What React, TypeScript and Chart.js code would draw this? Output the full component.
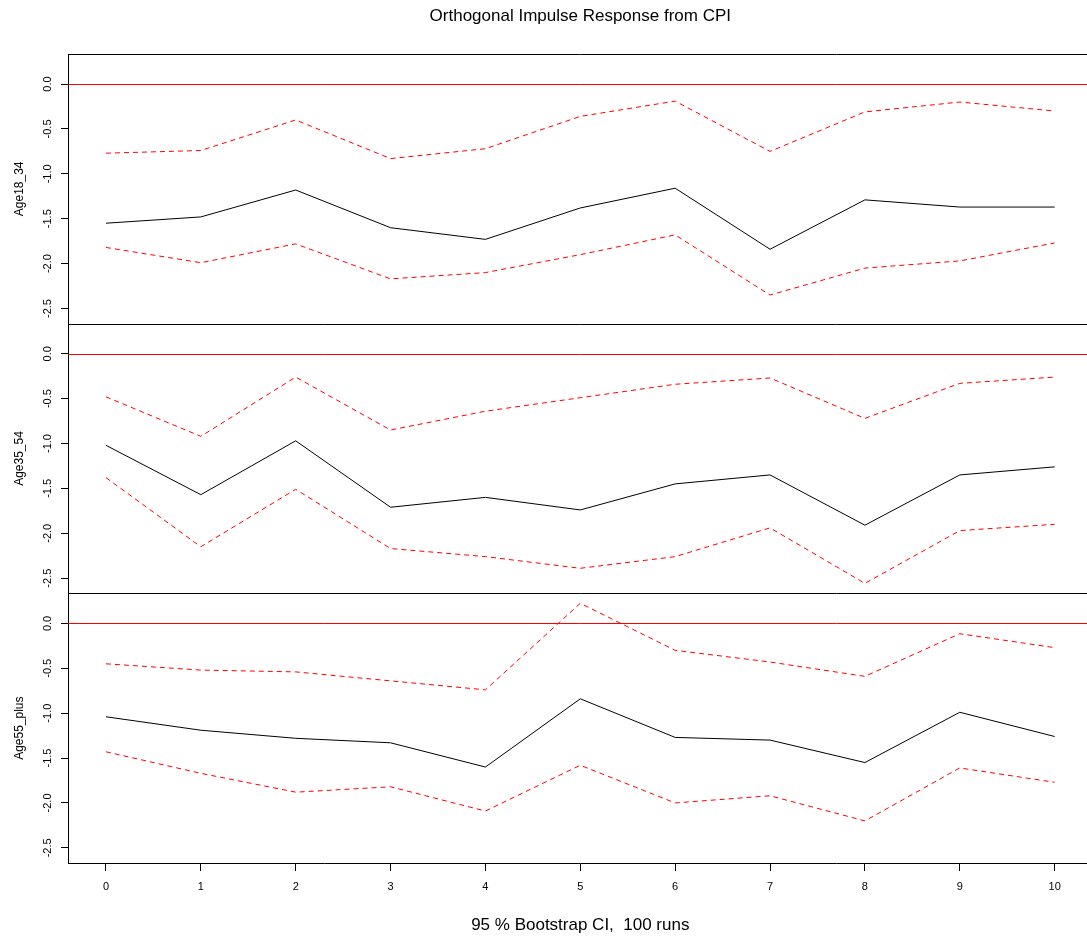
import React, { useEffect, useRef } from 'react';
import { Chart, registerables } from 'chart.js';

Chart.register(...registerables);

// ---- data ----
const STEPS = [0, 1, 2, 3, 4, 5, 6, 7, 8, 9, 10];
const X_TICKS = [0, 1, 2, 3, 4, 5, 6, 7, 8, 9, 10];
const Y_TICKS = [-2.5, -2, -1.5, -1, -0.5, 0];
const PANEL_NAMES = ['Age18_34', 'Age35_54', 'Age55_plus'];

const AGE18_IRF = [-1.55, -1.48, -1.18, -1.6, -1.73, -1.38, -1.16, -1.84, -1.29, -1.37, -1.37];
const AGE18_UPPER = [-0.77, -0.74, -0.4, -0.83, -0.72, -0.36, -0.19, -0.75, -0.31, -0.2, -0.3];
const AGE18_LOWER = [-1.82, -1.99, -1.78, -2.17, -2.1, -1.9, -1.68, -2.35, -2.05, -1.97, -1.77];

const AGE35_IRF = [-1.02, -1.57, -0.97, -1.71, -1.6, -1.74, -1.45, -1.35, -1.91, -1.35, -1.26];
const AGE35_UPPER = [-0.48, -0.92, -0.26, -0.85, -0.64, -0.49, -0.34, -0.27, -0.72, -0.33, -0.26];
const AGE35_LOWER = [-1.38, -2.15, -1.51, -2.17, -2.26, -2.39, -2.26, -1.94, -2.558, -1.97, -1.9];

const AGE55_IRF = [-1.04, -1.19, -1.28, -1.33, -1.6, -0.84, -1.27, -1.3, -1.55, -0.99, -1.26];
const AGE55_UPPER = [-0.45, -0.52, -0.54, -0.64, -0.74, 0.224, -0.3, -0.43, -0.59, -0.115, -0.27];
const AGE55_LOWER = [-1.43, -1.67, -1.88, -1.82, -2.09, -1.58, -2.0, -1.92, -2.2, -1.61, -1.77];

const Y_MIN = -2.669;
const Y_MAX = 0.335;
const X_MIN = -0.4;
const X_MAX = 10.4;

const TITLE = 'Orthogonal Impulse Response from CPI';
const X_TITLE = '95 % Bootstrap CI,  100 runs';

const SERIES = [
  { irf: AGE18_IRF, upper: AGE18_UPPER, lower: AGE18_LOWER },
  { irf: AGE35_IRF, upper: AGE35_UPPER, lower: AGE35_LOWER },
  { irf: AGE55_IRF, upper: AGE55_UPPER, lower: AGE55_LOWER },
];

const toPoints = (arr: number[]) => STEPS.map((s, i) => ({ x: s, y: arr[i] }));

const panelLines = {
  id: 'panelLines',
  afterDatasetsDraw(chart: any) {
    const { ctx, chartArea } = chart;
    ctx.save();
    ctx.lineWidth = 1;
    ['y0', 'y1', 'y2'].forEach((id) => {
      const s = chart.scales[id];
      const t = Math.round(s.top) + 0.5;
      ctx.strokeStyle = '#000';
      ctx.beginPath();
      ctx.moveTo(chartArea.left, t);
      ctx.lineTo(chartArea.right, t);
      ctx.stroke();
      const z = Math.round(s.getPixelForValue(0)) + 0.5;
      ctx.strokeStyle = '#ff0000';
      ctx.beginPath();
      ctx.moveTo(chartArea.left, z);
      ctx.lineTo(chartArea.right, z);
      ctx.stroke();
    });
    ctx.strokeStyle = '#000';
    ctx.beginPath();
    ctx.moveTo(chartArea.right, chartArea.top);
    ctx.lineTo(chartArea.right, chartArea.bottom);
    ctx.stroke();
    ctx.restore();
  },
};

export default function App() {
  const ref = useRef<HTMLCanvasElement>(null);

  useEffect(() => {
    document.body.style.margin = '0';
    const canvas = ref.current;
    if (!canvas) return;
    Chart.defaults.font.family = "'Liberation Sans', Arial, sans-serif";
    Chart.defaults.color = '#000';

    const datasets: any[] = [];
    SERIES.forEach((p, i) => {
      const yAxisID = 'y' + i;
      datasets.push({
        data: toPoints(p.irf),
        yAxisID,
        borderColor: '#000',
        borderWidth: 1,
        pointRadius: 0,
        tension: 0,
        fill: false,
      });
      datasets.push({
        data: toPoints(p.upper),
        yAxisID,
        borderColor: '#ff0000',
        borderWidth: 1,
        borderDash: [5, 4],
        pointRadius: 0,
        tension: 0,
        fill: false,
      });
      datasets.push({
        data: toPoints(p.lower),
        yAxisID,
        borderColor: '#ff0000',
        borderWidth: 1,
        borderDash: [5, 4],
        pointRadius: 0,
        tension: 0,
        fill: false,
      });
    });

    const yScale = (i: number) => ({
      type: 'linear',
      position: 'left',
      stack: 'irf',
      stackWeight: 1,
      weight: 3 - i,
      min: Y_MIN,
      max: Y_MAX,
      afterBuildTicks: (s: any) => {
        s.ticks = Y_TICKS.map((v) => ({ value: v }));
      },
      afterFit: (s: any) => {
        s.width = 68;
      },
      ticks: {
        callback: (v: any) => Number(v).toFixed(1),
        minRotation: 90,
        maxRotation: 90,
        crossAlign: 'center',
        padding: 3.5,
        autoSkip: false,
        font: { size: 11 },
        color: '#000',
      },
      grid: { drawOnChartArea: false, drawTicks: true, tickLength: 7, color: '#000' },
      border: { display: true, color: '#000', width: 1 },
      title: {
        display: true,
        text: PANEL_NAMES[i],
        font: { size: 12 },
        color: '#000',
        padding: { top: 12, bottom: 0 },
      },
    });

    const chart = new Chart(canvas, {
      type: 'line',
      data: { datasets },
      options: {
        responsive: false,
        animation: false,
        devicePixelRatio: 1,
        parsing: true,
        layout: { padding: { top: 0, left: 0, right: 7.4, bottom: 0 } },
        plugins: {
          legend: { display: false },
          tooltip: { enabled: false },
          title: {
            display: true,
            text: TITLE,
            fullSize: false,
            font: { size: 17, weight: 'normal' },
            color: '#000',
            padding: { top: 6.3, bottom: 27.3 },
          },
        },
        scales: {
          x: {
            type: 'linear',
            position: 'bottom',
            min: X_MIN,
            max: X_MAX,
            afterBuildTicks: (s: any) => {
              s.ticks = X_TICKS.map((v) => ({ value: v }));
            },
            afterFit: (s: any) => {
              s.height = 79;
            },
            ticks: {
              callback: (v: any) => String(v),
              maxRotation: 0,
              autoSkip: false,
              padding: 9,
              font: { size: 11 },
              color: '#000',
            },
            grid: { drawOnChartArea: false, drawTicks: true, tickLength: 8, color: '#000' },
            border: { display: true, color: '#000', width: 1 },
            title: {
              display: true,
              text: X_TITLE,
              font: { size: 17 },
              color: '#000',
              padding: { top: 0, bottom: 6.8 },
            },
          },
          y0: yScale(0),
          y1: yScale(1),
          y2: yScale(2),
        } as any,
      },
      plugins: [panelLines],
    } as any);

    return () => chart.destroy();
  }, []);

  return (
    <div
      style={{
        position: 'absolute',
        left: 0,
        top: 0,
        width: 1087,
        height: 942,
        overflow: 'hidden',
        background: '#fff',
      }}
    >
      <canvas ref={ref} width={1100} height={942} style={{ width: '1100px', height: '942px', display: 'block' }} />
    </div>
  );
}
